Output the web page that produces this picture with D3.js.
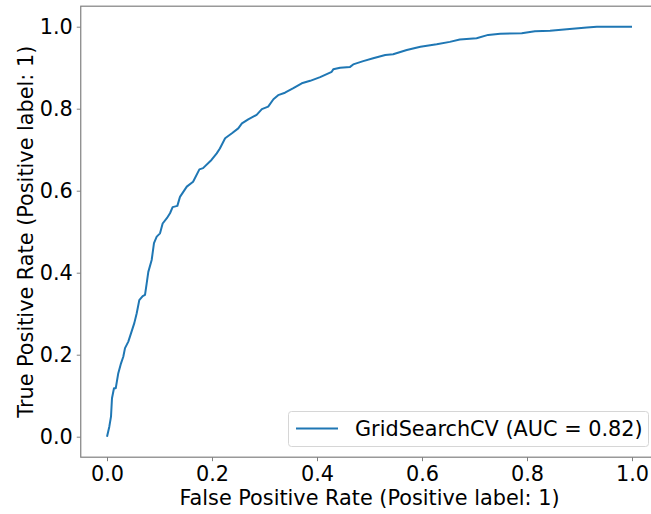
<!DOCTYPE html>
<html>
<head>
<meta charset="utf-8">
<script src="https://cdn.jsdelivr.net/npm/d3@7"></script>
<style>
  body { margin: 0; background: #fff; }
  svg { display: block; }
  text { font-family: "DejaVu Sans", sans-serif; fill: #000; }
</style>
</head>
<body>
<div id="chart"></div>
<script>
// ROC curve points
var fpr = [0, 0.0044, 0.0076, 0.0095, 0.0133, 0.0166, 0.0215, 0.0267, 0.031, 0.0343,
  0.0406, 0.0457, 0.052, 0.0566, 0.0615, 0.068, 0.0724, 0.0756, 0.0787, 0.0851,
  0.0895, 0.0947, 0.101, 0.106, 0.114, 0.12, 0.125, 0.134, 0.139, 0.152,
  0.164, 0.176, 0.183, 0.199, 0.209, 0.215, 0.225, 0.238, 0.25, 0.257,
  0.269, 0.285, 0.295, 0.307, 0.317, 0.326, 0.339, 0.355, 0.371, 0.387,
  0.406, 0.428, 0.431, 0.444, 0.463, 0.469, 0.488, 0.507, 0.53, 0.545,
  0.571, 0.597, 0.628, 0.653, 0.672, 0.704, 0.726, 0.749, 0.79, 0.815,
  0.844, 0.876, 0.914, 0.933, 1.0];
var tpr = [0, 0.0244, 0.0488, 0.0937, 0.118, 0.118, 0.155, 0.179, 0.195, 0.216,
  0.232, 0.252, 0.277, 0.301, 0.333, 0.343, 0.346, 0.374, 0.402, 0.431,
  0.472, 0.488, 0.496, 0.52, 0.533, 0.545, 0.56, 0.563, 0.585, 0.61,
  0.622, 0.652, 0.655, 0.675, 0.691, 0.703, 0.728, 0.74, 0.752, 0.764,
  0.774, 0.785, 0.799, 0.805, 0.823, 0.833, 0.839, 0.85, 0.862, 0.868,
  0.877, 0.89, 0.896, 0.9, 0.902, 0.908, 0.916, 0.923, 0.931, 0.933,
  0.943, 0.951, 0.957, 0.963, 0.969, 0.972, 0.98, 0.983, 0.984, 0.989,
  0.99, 0.994, 0.998, 1.0, 1.0];
var tickValues = [0, 0.2, 0.4, 0.6, 0.8, 1.0];
var legendLabel = "GridSearchCV (AUC = 0.82)";

var width = 651, height = 514;
var fontSize = "20.8px";
// axes box (right edge falls outside the picture)
var boxLeft = 80.75, boxTop = 6.2, boxRight = 658.25, boxBottom = 457.2;

var svg = d3.select("#chart").append("svg")
    .attr("width", width)
    .attr("height", height);

var x = d3.scaleLinear().domain([-0.05, 1.05]).range([boxLeft, boxRight]);
var y = d3.scaleLinear().domain([-0.05, 1.05]).range([boxBottom, boxTop]);

var fmt = d3.format(".1f");

// x axis
var xAxis = svg.append("g")
    .attr("transform", "translate(0," + boxBottom + ")")
    .call(d3.axisBottom(x).tickValues(tickValues).tickFormat(fmt).tickSize(4).tickPadding(5));
// y axis
var yAxis = svg.append("g")
    .attr("transform", "translate(" + boxLeft + ",0)")
    .call(d3.axisLeft(y).tickValues(tickValues).tickFormat(fmt).tickSize(4).tickPadding(4));

[xAxis, yAxis].forEach(function (g) {
  g.select(".domain").remove();
  g.selectAll(".tick line").attr("stroke", "#808080").attr("stroke-width", 1);
  g.selectAll(".tick text")
     .attr("font-size", fontSize)
     .attr("font-family", "DejaVu Sans, sans-serif")
     .attr("fill", "#000");
});

// spines
svg.append("rect")
   .attr("x", boxLeft)
   .attr("y", boxTop)
   .attr("width", boxRight - boxLeft)
   .attr("height", boxBottom - boxTop)
   .attr("fill", "none")
   .attr("stroke", "#808080")
   .attr("stroke-width", 1.2);

// ROC line
var pts = fpr.map(function (d, i) { return [d, tpr[i]]; });
svg.append("path")
   .datum(pts)
   .attr("fill", "none")
   .attr("stroke", "#1f77b4")
   .attr("stroke-width", 2)
   .attr("stroke-linejoin", "round")
   .attr("d", d3.line()
      .x(function (d) { return x(d[0]); })
      .y(function (d) { return y(d[1]); }));

// axis labels
svg.append("text")
   .attr("x", (boxLeft + boxRight) / 2)
   .attr("y", 505)
   .attr("text-anchor", "middle")
   .attr("font-size", fontSize)
   .text("False Positive Rate (Positive label: 1)");

svg.append("text")
   .attr("transform", "translate(32.5," + ((boxTop + boxBottom) / 2) + ") rotate(-90)")
   .attr("text-anchor", "middle")
   .attr("font-size", fontSize)
   .text("True Positive Rate (Positive label: 1)");

// legend
var legend = svg.append("g");
legend.append("rect")
   .attr("x", 288.5)
   .attr("y", 411.5)
   .attr("width", 360)
   .attr("height", 35)
   .attr("rx", 3)
   .attr("fill", "#fff")
   .attr("fill-opacity", 0.8)
   .attr("stroke", "#d6d6d6")
   .attr("stroke-width", 1);
legend.append("line")
   .attr("x1", 296).attr("x2", 338)
   .attr("y1", 428.5).attr("y2", 428.5)
   .attr("stroke", "#1f77b4")
   .attr("stroke-width", 2);
legend.append("text")
   .attr("x", 355)
   .attr("y", 436)
   .attr("font-size", fontSize)
   .text(legendLabel);
</script>
</body>
</html>
